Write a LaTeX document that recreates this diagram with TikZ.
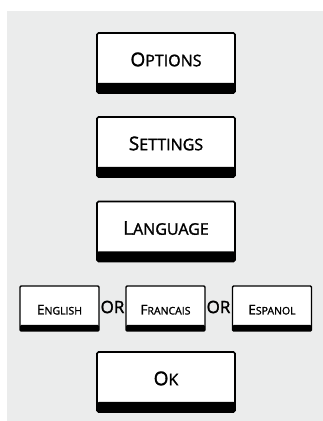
\documentclass[tikz,border=0pt]{standalone}
\usepackage{fontspec}
\setmainfont{Open Sans}[FakeBold=1.6,AutoFakeBold=1.6]
\definecolor{bg}{RGB}{235,236,236}
\newcommand{\bigsc}[2]{{\bfseries\fontsize{19}{19}\selectfont #1}{\bfseries\fontsize{16}{16}\selectfont #2}}
\newcommand{\smlsc}[2]{{\bfseries\fontsize{13.5}{13.5}\selectfont #1}{\bfseries\fontsize{10.5}{10.5}\selectfont #2}}
\begin{document}
\begin{tikzpicture}[x=1pt,y=1pt,
  bigbox/.style={draw=black, line width=1.6pt, fill=white, rounded corners=1.5pt,
    minimum width=138pt, minimum height=60pt, inner sep=0pt,
    text height=13.5pt, text depth=7pt,
    path picture={\fill[black] (path picture bounding box.south west) rectangle ([yshift=10pt]path picture bounding box.south east);}},
  smlbox/.style={draw=black, line width=1.4pt, fill=white, rounded corners=1.2pt,
    minimum width=79pt, minimum height=45pt, inner sep=0pt,
    text height=12pt, text depth=0pt,
    path picture={\fill[black] (path picture bounding box.south west) rectangle ([yshift=6pt]path picture bounding box.south east);}},
  ortext/.style={font=\bfseries\fontsize{17}{17}\selectfont, inner sep=0pt}]
\useasboundingbox (0,0) rectangle (323,421);
\fill[bg] (7,0) rectangle (323,410);
\node[bigbox] (options) at (166,358) {\bigsc{O}{PTIONS}};
\node[bigbox] (settings) at (166,274) {\bigsc{S}{ETTINGS}};
\node[bigbox] (language) at (166,189.5) {\bigsc{L}{ANGUAGE}};
\node[smlbox] (english) at (59.5,112.5) {\smlsc{E}{NGLISH}};
\node[smlbox] (francais) at (165.5,112.5) {\smlsc{F}{RANCAIS}};
\node[smlbox] (espanol) at (272,112.5) {\smlsc{E}{SPANOL}};
\node[ortext] (or1) at (112.5,114) {OR};
\node[ortext] (or2) at (218.5,114) {OR};
\node[bigbox] (ok) at (166,39) {\bigsc{O}{K}};
\end{tikzpicture}
\end{document}
